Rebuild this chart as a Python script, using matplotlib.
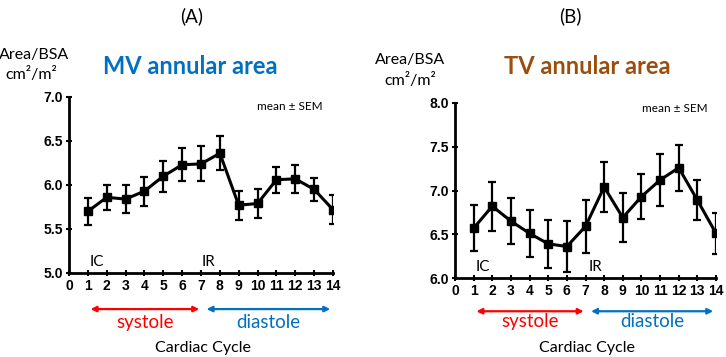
import matplotlib.pyplot as plt
from matplotlib.patches import FancyArrowPatch

W, H = 726, 357

cycle = list(range(1, 15))
mv_mean = [5.70, 5.86, 5.84, 5.93, 6.10, 6.23, 6.24, 6.36, 5.77, 5.79, 6.06, 6.07, 5.95, 5.72]
mv_sem = [0.15, 0.14, 0.16, 0.165, 0.175, 0.185, 0.20, 0.195, 0.165, 0.17, 0.15, 0.16, 0.135, 0.165]
tv_mean = [6.57, 6.82, 6.65, 6.51, 6.39, 6.36, 6.59, 7.04, 6.69, 6.93, 7.12, 7.26, 6.89, 6.51]
tv_sem = [0.265, 0.28, 0.26, 0.27, 0.27, 0.29, 0.30, 0.29, 0.28, 0.255, 0.295, 0.26, 0.225, 0.23]
xticks = list(range(0, 15))

TXT = 'Lato'
NUM = 'Liberation Sans'
RED = '#FF0000'
BLUE = '#0070C0'
BROWN = '#9C4E0E'


def px(x, y):
    return x / W, 1 - y / H


def panel(ax, mean, sem, ylim, yticks, ic_y, ir_x):
    ax.errorbar(cycle, mean, yerr=sem, color='black', lw=2.2, marker='s', ms=6,
                elinewidth=1.6, capsize=3, capthick=1.6)
    ax.set_xlim(0, 14)
    ax.set_ylim(*ylim)
    ax.set_xticks(xticks)
    ax.set_yticks(yticks)
    ax.set_yticklabels(['%.1f' % v for v in yticks])
    for s in ['top', 'right']:
        ax.spines[s].set_visible(False)
    for s in ['left', 'bottom']:
        ax.spines[s].set_linewidth(2)
    ax.tick_params(direction='inout', width=1.5, length=5, labelsize=10, pad=2)
    for lab in ax.get_xticklabels() + ax.get_yticklabels():
        lab.set_fontfamily(NUM)
        lab.set_fontweight('bold')
    ax.text(1.5, ic_y, 'IC', fontsize=11, family=TXT, ha='center', va='center')
    ax.text(ir_x, ic_y, 'IR', fontsize=11, family=TXT, ha='center', va='center')


def arrows(ax, ya, yt, yc):
    tr = ax.get_xaxis_transform()
    for x0, x1, col, lab in [(1, 7.05, RED, 'systole'), (7.15, 14, BLUE, 'diastole')]:
        ar = FancyArrowPatch((x0, ya), (x1, ya), transform=tr, arrowstyle='<|-|>',
                             mutation_scale=8, color=col, lw=1.6, clip_on=False)
        ax.add_patch(ar)
        ax.text((x0 + x1) / 2, yt, lab, transform=tr, color=col, fontsize=13.5,
                family=TXT, ha='center', va='center')
    ax.text(7.1, yc, 'Cardiac Cycle', transform=tr, fontsize=11.5, family=TXT,
            ha='center', va='center')


fig = plt.figure(figsize=(W / 100, H / 100), dpi=100)
ax1 = fig.add_axes([69 / W, 1 - 273 / H, 264 / W, 176 / H])
ax2 = fig.add_axes([455 / W, 1 - 278 / H, 261 / W, 175 / H])

panel(ax1, mv_mean, mv_sem, (5.0, 7.0), [5.0, 5.5, 6.0, 6.5, 7.0], 5.125, 7.4)
panel(ax2, tv_mean, tv_sem, (6.0, 8.0), [6.0, 6.5, 7.0, 7.5, 8.0], 6.125, 7.55)
arrows(ax1, -0.205, -0.28, -0.425)
arrows(ax2, -0.19, -0.25, -0.40)

fig.text(*px(192, 16), '(A)', fontsize=13.5, family=TXT, ha='center', va='center')
fig.text(*px(570, 16), '(B)', fontsize=13.5, family=TXT, ha='center', va='center')
fig.text(*px(34, 55), 'Area/BSA', fontsize=11.5, family=TXT, ha='center', va='center')
fig.text(*px(31, 75), 'cm²/m²', fontsize=11.5, family=TXT, ha='center', va='center')
fig.text(*px(410, 60), 'Area/BSA', fontsize=11.5, family=TXT, ha='center', va='center')
fig.text(*px(410, 80), 'cm²/m²', fontsize=11.5, family=TXT, ha='center', va='center')
fig.text(*px(190, 66), 'MV annular area', fontsize=17, family=TXT, weight='bold',
         color=BLUE, ha='center', va='center')
fig.text(*px(587, 66), 'TV annular area', fontsize=17, family=TXT, weight='bold',
         color=BROWN, ha='center', va='center')
fig.text(*px(290, 106), 'mean ± SEM', fontsize=8.5, family=TXT, ha='center', va='center')
fig.text(*px(675, 109), 'mean ± SEM', fontsize=8.5, family=TXT, ha='center', va='center')

fig.savefig('out.png', dpi=100)
